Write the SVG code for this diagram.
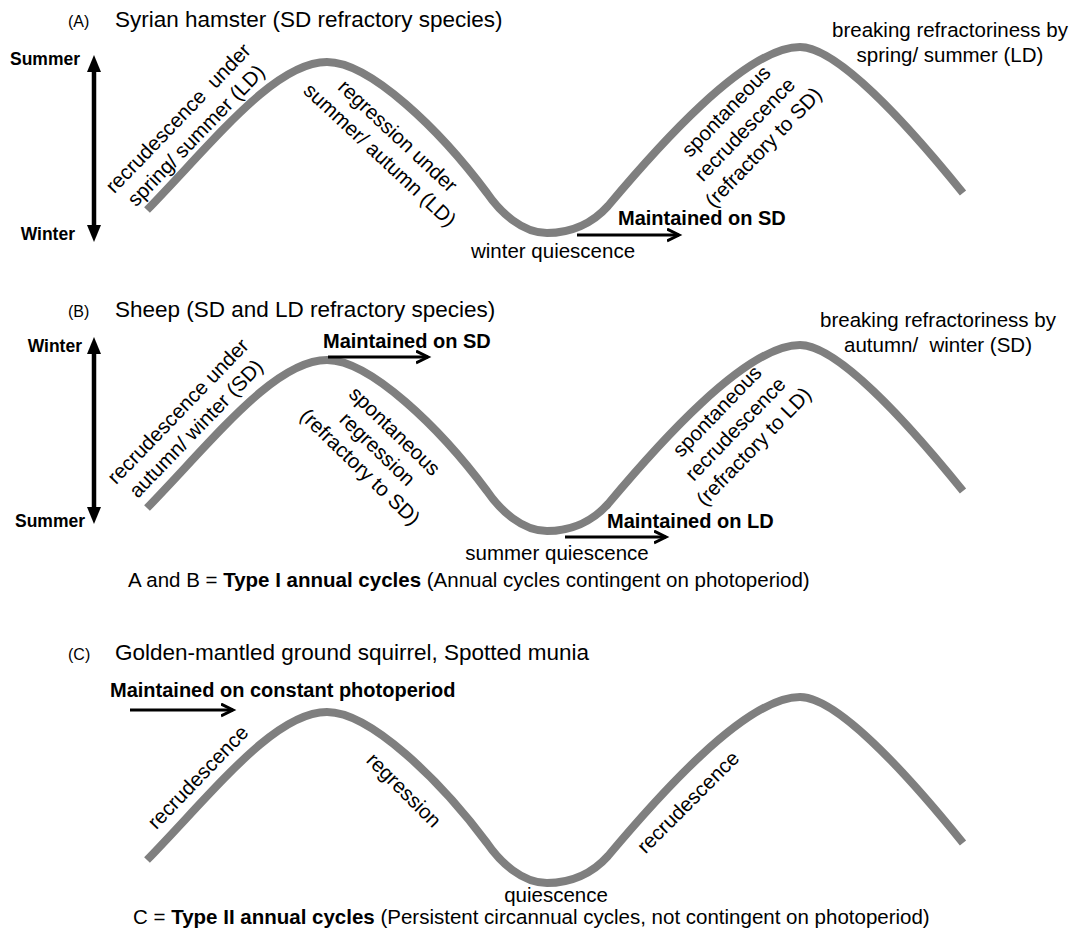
<svg xmlns="http://www.w3.org/2000/svg" width="1074" height="936" viewBox="0 0 1074 936">
<style>
text{font-family:"Liberation Sans",Arial,sans-serif;fill:#000}
.t{font-size:20.5px}
.title{font-size:22.5px}
.lab{font-size:16px}
.mb{font-size:20px;font-weight:bold}
.season{font-size:17.5px;font-weight:bold}
.pre{white-space:pre}
.wave{fill:none;stroke:#7f7f7f;stroke-width:8}
.harrow{fill:none;stroke:#000;stroke-width:3;marker-end:url(#ah)}
.shaft{stroke:#000;stroke-width:4.5}
</style>
<defs>
<marker id="ah" markerUnits="userSpaceOnUse" markerWidth="16" markerHeight="16" refX="12" refY="7" orient="auto">
<path d="M0,1 L12,7 L0,13" fill="none" stroke="#000" stroke-width="3"/>
</marker>
<path id="wave" class="wave" d="M147,210 C215,140 275,62 327,62 C370,62 440,130 487,193 C500,212 522,233 547,233 C570,233 592,224 608,206 C655,150 745,47 800,47 C835,47 900,115 963,193"/>
<g id="dblarrow">
<line class="shaft" x1="94" y1="68" x2="94" y2="229"/>
<polygon points="94,55 87,72 101,72"/>
<polygon points="94,242 87,225 101,225"/>
</g>
</defs>

<g id="panelA">
<text class="lab" x="68" y="27">(A)</text>
<text class="title" x="115" y="27">Syrian hamster (SD refractory species)</text>
<text class="season" x="80" y="65" text-anchor="end">Summer</text>
<text class="season" x="75" y="240" text-anchor="end">Winter</text>
<use href="#dblarrow"/>
<use href="#wave"/>
<text class="t pre" text-anchor="middle" transform="translate(183,123) rotate(-46)"><tspan x="0" y="0">recrudescence  under</tspan><tspan x="0" y="25">spring/ summer (LD)</tspan></text>
<text class="t" text-anchor="middle" transform="translate(393,141) rotate(43)"><tspan x="0" y="0">regression under</tspan><tspan x="0" y="26">summer/ autumn (LD)</tspan></text>
<text class="t" x="553" y="258" text-anchor="middle">winter quiescence</text>
<text class="t" text-anchor="middle" transform="translate(731,116) rotate(-46)"><tspan x="0" y="0">spontaneous</tspan><tspan x="0" y="26">recrudescence</tspan><tspan x="0" y="52">(refractory to SD)</tspan></text>
<text class="t" text-anchor="middle"><tspan x="950" y="37">breaking refractoriness by</tspan><tspan x="950" y="62">spring/ summer (LD)</tspan></text>
<text class="mb" x="618" y="225">Maintained on SD</text>
</g>

<g id="panelB">
<text class="lab" x="68" y="317">(B)</text>
<text class="title" x="115" y="317">Sheep (SD and LD refractory species)</text>
<text class="season" x="82" y="352" text-anchor="end">Winter</text>
<text class="season" x="85" y="527" text-anchor="end">Summer</text>
<use href="#dblarrow" transform="translate(0,282) scale(1,1)"/>
<use href="#wave" transform="translate(0,298)"/>
<text class="t" text-anchor="middle" transform="translate(183,416) rotate(-46)"><tspan x="0" y="0">recrudescence under</tspan><tspan x="0" y="25">autumn/ winter (SD)</tspan></text>
<text class="mb" x="323" y="348">Maintained on SD</text>
<text class="t" text-anchor="middle" transform="translate(390,436) rotate(44)"><tspan x="0" y="0">spontaneous</tspan><tspan x="0" y="25">regression</tspan><tspan x="0" y="50">(refractory to SD)</tspan></text>
<text class="t" x="557" y="560" text-anchor="middle">summer quiescence</text>
<text class="mb" x="607" y="528">Maintained on LD</text>
<text class="t" text-anchor="middle" transform="translate(722,416) rotate(-46)"><tspan x="0" y="0">spontaneous</tspan><tspan x="0" y="25.5">recrudescence</tspan><tspan x="0" y="51">(refractory to LD)</tspan></text>
<text class="t pre" text-anchor="middle"><tspan x="938" y="327">breaking refractoriness by</tspan><tspan x="938" y="352">autumn/  winter (SD)</tspan></text>
<text class="t" x="128" y="587">A and B = <tspan font-weight="bold">Type I annual cycles</tspan> (Annual cycles contingent on photoperiod)</text>
</g>

<g id="panelC">
<text class="lab" x="68" y="660">(C)</text>
<text class="title" x="115" y="660">Golden-mantled ground squirrel, Spotted munia</text>
<text class="mb" x="110" y="697">Maintained on constant photoperiod</text>
<use href="#wave" transform="translate(0,650)"/>
<text class="t" text-anchor="middle" transform="translate(203,782) rotate(-46)">recrudescence</text>
<text class="t" text-anchor="middle" transform="translate(399,795) rotate(45)">regression</text>
<text class="t" x="556" y="902" text-anchor="middle">quiescence</text>
<text class="t" text-anchor="middle" transform="translate(693,807) rotate(-45)">recrudescence</text>
<text class="t" x="133" y="924">C = <tspan font-weight="bold">Type II annual cycles</tspan> (Persistent circannual cycles, not contingent on photoperiod)</text>
</g>

<g id="connectors">
<line class="harrow" x1="577" y1="235" x2="679" y2="235"/>
<line class="harrow" x1="328" y1="357" x2="428" y2="357"/>
<line class="harrow" x1="565" y1="537" x2="666" y2="537"/>
<line class="harrow" x1="130" y1="710" x2="233" y2="710"/>
</g>
</svg>
